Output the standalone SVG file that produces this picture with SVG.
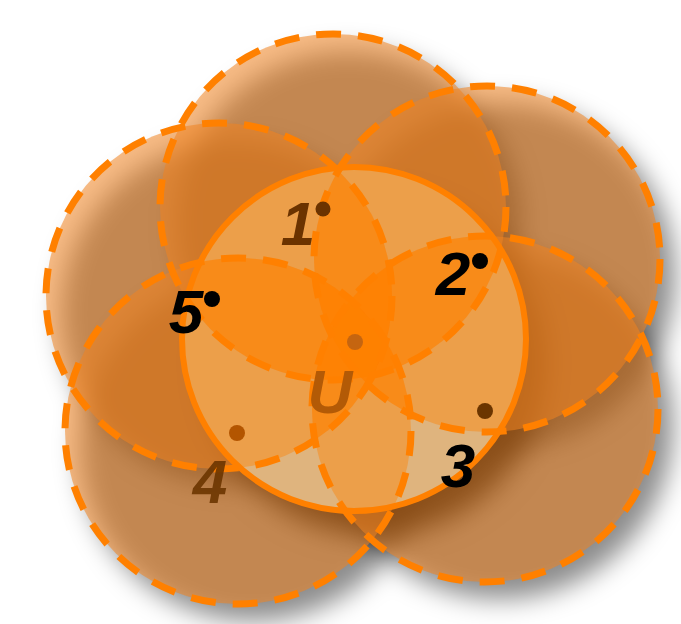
<svg xmlns="http://www.w3.org/2000/svg" xmlns:xlink="http://www.w3.org/1999/xlink" width="681" height="624" viewBox="0 0 681 624">
<defs>
<style>
.sh{fill:#000;fill-opacity:0.45}
.shu{fill:#000;fill-opacity:0.85}
.fl{fill:#f08420;fill-opacity:0.55}
.dash{fill:none;stroke:#ff8000;stroke-width:7;stroke-dasharray:25 17}
.lens{fill:#ff8000;fill-opacity:0.41}
.lbl{font-family:"Liberation Sans",Arial,sans-serif;font-weight:bold;font-style:italic;font-size:62px;text-anchor:middle}
</style>
<circle id="c1" cx="333" cy="207" r="173"/>
<circle id="c2" cx="487" cy="259" r="173"/>
<circle id="c3" cx="485" cy="409" r="173"/>
<circle id="c4" cx="238" cy="431" r="173"/>
<circle id="c5" cx="219" cy="296" r="173"/>
<circle id="cu" cx="354" cy="339" r="172"/>
<clipPath id="k1"><circle cx="333" cy="207" r="173"/></clipPath>
<clipPath id="k2"><circle cx="487" cy="259" r="173"/></clipPath>
<clipPath id="k3"><circle cx="485" cy="409" r="173"/></clipPath>
<clipPath id="k4"><circle cx="238" cy="431" r="173"/></clipPath>
<clipPath id="kU"><circle cx="354" cy="339" r="172"/></clipPath>
<filter id="blur" x="-20%" y="-20%" width="150%" height="150%"><feGaussianBlur stdDeviation="13"/><feOffset dx="15" dy="17"/></filter>
<filter id="blurU" x="-20%" y="-20%" width="150%" height="150%"><feGaussianBlur stdDeviation="14"/><feOffset dx="20" dy="24"/></filter>
</defs>
<rect width="681" height="624" fill="#fff"/>
<g id="shadows">
<g filter="url(#blur)">
<use xlink:href="#c1" class="sh"/>
<use xlink:href="#c2" class="sh"/>
<use xlink:href="#c3" class="sh"/>
<use xlink:href="#c4" class="sh"/>
<use xlink:href="#c5" class="sh"/>
</g>
<use xlink:href="#cu" class="shu" filter="url(#blurU)"/>
</g>
<g id="range-fills">
<use xlink:href="#c1" class="fl"/>
<use xlink:href="#c2" class="fl"/>
<use xlink:href="#c3" class="fl"/>
<use xlink:href="#c4" class="fl"/>
<use xlink:href="#c5" class="fl"/>
</g>
<g id="area-U">
<use xlink:href="#cu" fill="#dfb47e"/>
<g clip-path="url(#kU)">
<g clip-path="url(#k1)"><use xlink:href="#c2" class="lens"/><use xlink:href="#c3" class="lens"/><use xlink:href="#c4" class="lens"/><use xlink:href="#c5" class="lens"/></g>
<g clip-path="url(#k2)"><use xlink:href="#c3" class="lens"/><use xlink:href="#c4" class="lens"/><use xlink:href="#c5" class="lens"/></g>
<g clip-path="url(#k3)"><use xlink:href="#c4" class="lens"/><use xlink:href="#c5" class="lens"/></g>
<g clip-path="url(#k4)"><use xlink:href="#c5" class="lens"/></g>
</g>
</g>
<g id="range-outlines">
<use xlink:href="#c1" class="dash"/>
<use xlink:href="#c2" class="dash"/>
<use xlink:href="#c3" class="dash"/>
<use xlink:href="#c4" class="dash"/>
<use xlink:href="#c5" class="dash"/>
</g>
<g id="node-U">
<use xlink:href="#cu" fill="none" stroke="#ff8000" stroke-width="6"/>
<circle cx="355" cy="342" r="8" fill="#c56510"/>
<text class="lbl" x="330" y="413" fill="#b35a06">U</text>
</g>
<g id="node-1">
<circle cx="323" cy="209" r="7.5" fill="#6b3300"/>
<text class="lbl" x="298" y="245" fill="#6b3300">1</text>
</g>
<g id="node-2">
<circle cx="480" cy="261" r="8" fill="#000"/>
<text class="lbl" x="453" y="295" fill="#000">2</text>
</g>
<g id="node-3">
<circle cx="485" cy="411" r="8" fill="#6b3500"/>
<text class="lbl" x="458" y="487" fill="#000">3</text>
</g>
<g id="node-4">
<circle cx="237" cy="433" r="8" fill="#b35500"/>
<text class="lbl" x="210" y="503" fill="#6b3500" fill-opacity="0.9">4</text>
</g>
<g id="node-5">
<circle cx="212" cy="299" r="8" fill="#000"/>
<text class="lbl" x="186" y="333" fill="#000">5</text>
</g>
</svg>
